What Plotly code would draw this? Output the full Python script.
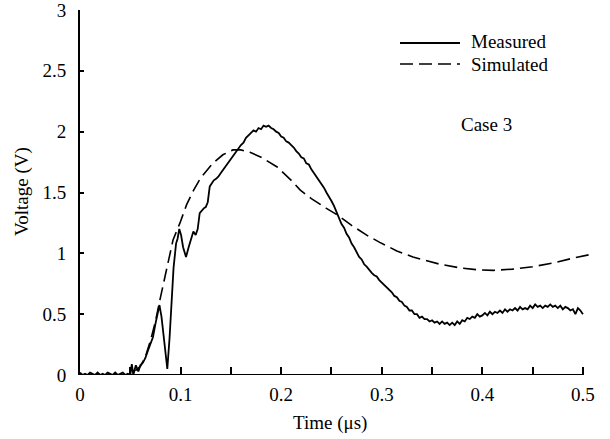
import plotly.graph_objects as go

# ---- data ----
meas_t = [0, .0025, .005, .0075, .01, .0125, .015, .0175, .02, .0225, .025, .0275, .03, .0325,
          .035, .0375, .04, .0425, .045, .0475, .05, .0515, .053, .0555, .058, .06, .0625, .065,
          .0675, .07, .0725, .075, .0775, .079, .081, .083, .085, .0868, .089, .091, .093, .0955,
          .097, .0987, .1005, .1025, .1054, .108, .1105, .1127, .115, .117, .119, .121, .123, .125,
          .127, .129, .131, .133, .135, .1375, .14, .1425, .145, .1475, .15, .1525, .155, .1575,
          .16, .1625, .165, .1675, .17, .1725, .175, .1775, .18, .1825, .185, .1875, .19, .1925,
          .195, .1975, .2, .2025, .205, .2075, .21, .2125, .215, .2175, .22, .2225, .225, .2275,
          .23, .2325, .235, .2375, .24, .2425, .245, .2475, .25, .2525, .255, .2575, .26, .2625,
          .265, .2675, .27, .2725, .275, .2775, .28, .2825, .285, .2875, .29, .2925, .295, .2975,
          .3, .3025, .305, .3075, .31, .3125, .315, .3175, .32, .3225, .325, .3275, .33, .3325,
          .335, .3375, .34, .3425, .345, .3475, .35, .3525, .355, .3575, .36, .3625, .365, .3675,
          .37, .3725, .375, .3775, .38, .3825, .385, .3875, .39, .3925, .395, .3975, .4, .4025,
          .405, .4075, .41, .4125, .415, .4175, .42, .4225, .425, .4275, .43, .4325, .435, .4375,
          .44, .4425, .445, .4475, .45, .4525, .455, .4575, .46, .4625, .465, .4675, .47, .4725,
          .475, .4775, .48, .4825, .485, .4875, .49, .4925, .495, .4975, .5]
meas_v = [0.02, 0.0, 0.01, 0.0, 0.02, 0.01, 0.0, 0.02, 0.0, 0.01, 0.0, 0.02, 0.01, 0.0,
          0.02, 0.0, 0.01, 0.02, 0.0, 0.01, 0.0, 0.09, 0.0, 0.08, 0.03, 0.08, 0.10, 0.14,
          0.20, 0.25, 0.31, 0.42, 0.52, 0.575, 0.48, 0.32, 0.15, 0.05, 0.30, 0.62, 0.88, 1.08,
          1.12, 1.20, 1.15, 1.05, 0.97, 1.05, 1.12, 1.18, 1.15, 1.20, 1.33, 1.35, 1.37, 1.38,
          1.42, 1.55, 1.58, 1.60, 1.61, 1.63, 1.66, 1.69, 1.71, 1.75, 1.77, 1.80, 1.83, 1.86,
          1.89, 1.91, 1.95, 1.97, 1.99, 2.01, 2.00, 2.03, 2.02, 2.05, 2.04, 2.05, 2.03, 2.02,
          2.00, 1.99, 1.96, 1.95, 1.92, 1.91, 1.89, 1.87, 1.84, 1.82, 1.79, 1.78, 1.74, 1.73,
          1.69, 1.66, 1.63, 1.61, 1.57, 1.54, 1.50, 1.47, 1.43, 1.39, 1.34, 1.30, 1.24, 1.21,
          1.16, 1.13, 1.08, 1.05, 1.01, 0.97, 0.95, 0.91, 0.89, 0.86, 0.84, 0.82, 0.81, 0.78,
          0.76, 0.74, 0.72, 0.70, 0.68, 0.65, 0.64, 0.61, 0.60, 0.57, 0.56, 0.53, 0.53, 0.50,
          0.50, 0.47, 0.48, 0.46, 0.46, 0.44, 0.45, 0.43, 0.44, 0.42, 0.44, 0.42, 0.43, 0.41,
          0.43, 0.41, 0.44, 0.42, 0.45, 0.44, 0.47, 0.46, 0.48, 0.47, 0.50, 0.48, 0.49, 0.51,
          0.49, 0.52, 0.50, 0.52, 0.51, 0.53, 0.51, 0.54, 0.52, 0.54, 0.53, 0.55, 0.53, 0.56,
          0.54, 0.55, 0.54, 0.57, 0.55, 0.58, 0.56, 0.57, 0.55, 0.57, 0.56, 0.58, 0.56, 0.57,
          0.55, 0.57, 0.54, 0.56, 0.55, 0.53, 0.54, 0.50, 0.55, 0.53, 0.50]

sim_t = [0, 0.05, 0.06, 0.065, 0.07, 0.075, 0.0795, 0.0845, 0.0925, 0.0994, 0.106, 0.113, 0.12,
         0.132, 0.142, 0.152, 0.16, 0.169, 0.18, 0.196, 0.21, 0.219, 0.23, 0.245, 0.257, 0.27,
         0.285, 0.298, 0.315, 0.331, 0.345, 0.358, 0.378, 0.395, 0.411, 0.43, 0.45, 0.47, 0.49, 0.507]
sim_v = [0, 0, 0.07, 0.15, 0.28, 0.44, 0.62, 0.81, 1.11, 1.25, 1.40, 1.52, 1.62,
         1.74, 1.81, 1.85, 1.85, 1.83, 1.79, 1.71, 1.60, 1.52, 1.45, 1.37, 1.31, 1.23,
         1.15, 1.09, 1.02, 0.97, 0.94, 0.91, 0.88, 0.865, 0.86, 0.87, 0.89, 0.92, 0.96, 0.99]

x_tickvals = [0, 0.05, 0.1, 0.15, 0.2, 0.25, 0.3, 0.35, 0.4, 0.45, 0.5]
x_ticktext = ["0", "", "0.1", "", "0.2", "", "0.3", "", "0.4", "", "0.5"]
y_tickvals = [0, 0.5, 1, 1.5, 2, 2.5, 3]
y_ticktext = ["0", "0.5", "1", "1.5", "2", "2.5", "3"]

FONT = "Liberation Serif"
FS = 19

fig = go.Figure()
fig.add_trace(go.Scatter(x=meas_t, y=meas_v, mode="lines", name="Measured",
                         line=dict(color="black", width=1.8), showlegend=False))
fig.add_trace(go.Scatter(x=sim_t, y=sim_v, mode="lines", name="Simulated",
                         line=dict(color="black", width=1.6, dash="13px,6px"), showlegend=False))

W, H = 610, 439
L, R, T, B = 80, 17, 10, 64
pw, ph = W - L - R, H - T - B

def px(x):
    return (x - L) / pw

def py(y):
    return 1 - (y - T) / ph

shapes = [
    dict(type="line", xref="x", yref="y", x0=0, x1=0.5, y0=0, y1=0,
         line=dict(color="black", width=2)),
    dict(type="line", xref="paper", yref="paper", x0=px(400), x1=px(460), y0=py(43), y1=py(43),
         line=dict(color="black", width=1.8)),
    dict(type="line", xref="paper", yref="paper", x0=px(400), x1=px(460), y0=py(64), y1=py(64),
         line=dict(color="black", width=1.6, dash="13px,6px")),
]
annotations = [
    dict(text="Measured", xref="paper", yref="paper", x=px(469), y=py(42), xanchor="left",
         yanchor="middle", showarrow=False, font=dict(family=FONT, size=FS, color="black")),
    dict(text="Simulated", xref="paper", yref="paper", x=px(469), y=py(64), xanchor="left",
         yanchor="middle", showarrow=False, font=dict(family=FONT, size=FS, color="black")),
    dict(text="Case 3", xref="paper", yref="paper", x=px(486), y=py(124), xanchor="center",
         yanchor="middle", showarrow=False, font=dict(family=FONT, size=FS, color="black")),
    dict(text="Time (μs)", xref="paper", yref="paper", x=px(330), y=py(423), xanchor="center",
         yanchor="middle", showarrow=False, font=dict(family=FONT, size=FS, color="black")),
    dict(text="Voltage (V)", xref="paper", yref="paper", x=px(22), y=py(192), xanchor="center",
         yanchor="middle", textangle=-90, showarrow=False,
         font=dict(family=FONT, size=FS, color="black")),
]

fig.update_layout(
    width=W, height=H,
    margin=dict(l=L, r=R, t=T, b=B, autoexpand=False),
    paper_bgcolor="white", plot_bgcolor="white",
    font=dict(family=FONT, size=FS, color="black"),
    shapes=shapes, annotations=annotations,
    showlegend=False,
)
fig.update_xaxes(range=[0, 0.51], showline=False, zeroline=False, showgrid=False,
                 automargin=False, ticklabeloverflow="allow",
                 tickmode="array", tickvals=x_tickvals, ticktext=x_ticktext,
                 ticks="inside", ticklen=8, tickwidth=1.5, tickcolor="black",
                 ticklabelstandoff=6, tickfont=dict(family=FONT, size=FS))
fig.update_yaxes(range=[0, 3], showline=True, linecolor="black", linewidth=2, zeroline=False,
                 showgrid=False, automargin=False, ticklabeloverflow="allow",
                 tickmode="array", tickvals=y_tickvals, ticktext=y_ticktext,
                 ticks="inside", ticklen=4, tickwidth=1.5, tickcolor="black",
                 ticklabelstandoff=8, tickfont=dict(family=FONT, size=FS))

fig.write_html("out.html")
